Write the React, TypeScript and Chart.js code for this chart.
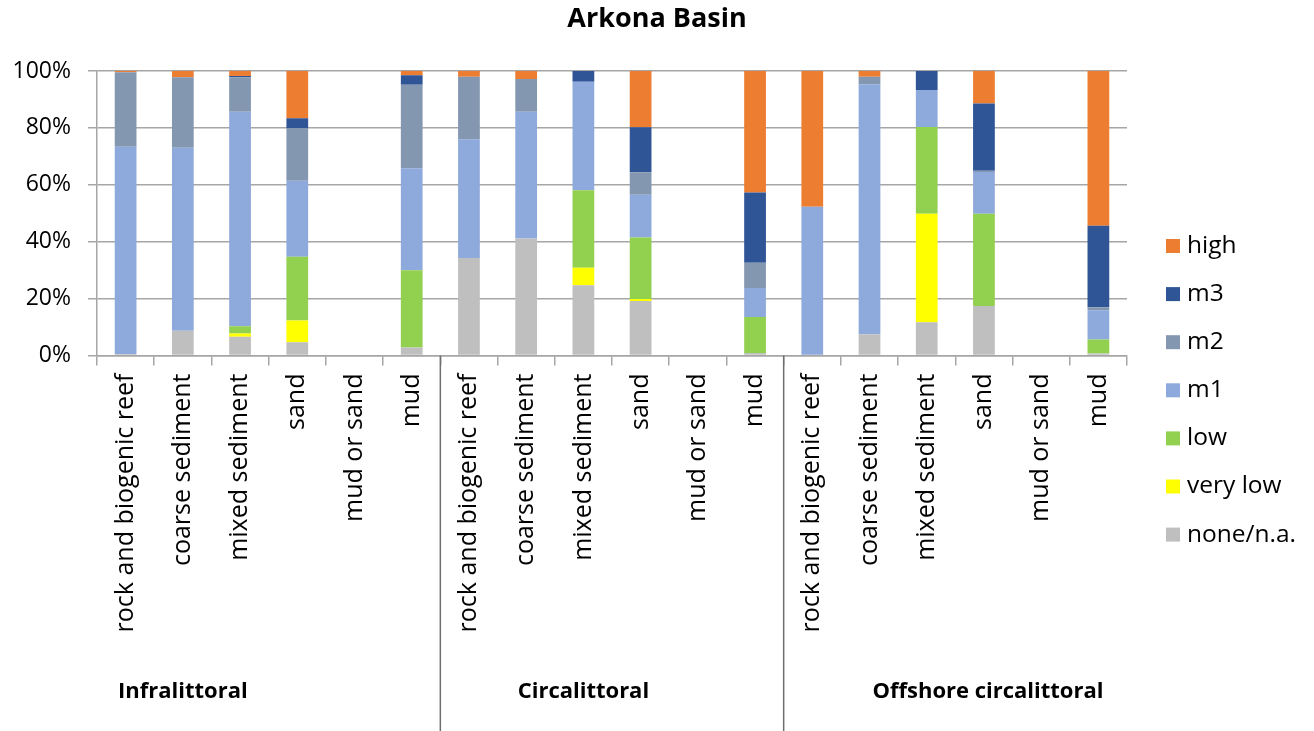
import React, { useEffect, useRef } from 'react';
import { Chart, registerables } from 'chart.js';

Chart.register(...registerables);

// ---------- data ----------
const categories = [
  'rock and biogenic reef', 'coarse sediment', 'mixed sediment', 'sand', 'mud or sand', 'mud',
  'rock and biogenic reef', 'coarse sediment', 'mixed sediment', 'sand', 'mud or sand', 'mud',
  'rock and biogenic reef', 'coarse sediment', 'mixed sediment', 'sand', 'mud or sand', 'mud',
];
const groupNames = ['Infralittoral', 'Circalittoral', 'Offshore circalittoral'];
const groupSizes = [6, 6, 6];

const seriesNames = ['none/n.a.', 'very low', 'low', 'm1', 'm2', 'm3', 'high'];
const noneValues = [0.5, 8.7, 6.6, 4.7, 0, 2.8, 34.3, 41.1, 24.7, 19.2, 0, 0.9, 0, 7.5, 11.7, 17.4, 0, 0.7];
const veryLowValues = [0, 0, 1.1, 7.6, 0, 0, 0, 0, 6.1, 0.7, 0, 0, 0, 0, 38.1, 0, 0, 0];
const lowValues = [0, 0, 2.6, 22.4, 0, 27.2, 0, 0, 27.3, 21.6, 0, 12.6, 0, 0, 30.5, 32.4, 0, 4.9];
const m1Values = [72.9, 64.3, 75.4, 26.7, 0, 35.8, 41.7, 44.6, 38.1, 15.0, 0, 10.2, 52.3, 87.8, 13.0, 14.7, 0, 10.3];
const m2Values = [26.2, 24.8, 12.1, 18.6, 0, 29.4, 22.0, 11.5, 0, 7.9, 0, 8.9, 0, 2.7, 0, 0.4, 0, 1.1];
const m3Values = [0, 0, 0.4, 3.4, 0, 3.3, 0, 0, 3.8, 15.8, 0, 24.7, 0, 0, 6.7, 23.7, 0, 28.6];
const highValues = [0.4, 2.2, 1.8, 16.6, 0, 1.5, 2.0, 2.8, 0, 19.8, 0, 42.7, 47.7, 2.0, 0, 11.4, 0, 54.4];

const yTickValues = [0, 20, 40, 60, 80, 100];
const yTickLabels = ['0%', '20%', '40%', '60%', '80%', '100%'];

const seriesColors = ['#BFBFBF', '#FFFF00', '#92D050', '#8EA9DB', '#8497B0', '#2F5597', '#ED7D31'];

const FONT = '"Open Sans", "DejaVu Sans", sans-serif';

const overlayPlugin = {
  id: 'overlay',
  afterDraw(chart: any) {
    const { ctx, chartArea } = chart;
    const x = chart.scales.x;
    ctx.save();
    // group separators
    ctx.strokeStyle = '#6f6f6f';
    ctx.lineWidth = 1.5;
    let start = 0;
    const starts: number[] = [];
    groupSizes.forEach((n) => { starts.push(start); start += n; });
    starts.slice(1).forEach((i) => {
      const px = (x.getPixelForValue(i - 1) + x.getPixelForValue(i)) / 2;
      ctx.beginPath();
      ctx.moveTo(px, chartArea.bottom);
      ctx.lineTo(px, chart.height);
      ctx.stroke();
    });
    // group labels
    const labelAt = [1, 8, 15.07];
    ctx.font = `bold 22px ${FONT}`;
    ctx.fillStyle = '#000';
    ctx.textAlign = 'center';
    ctx.textBaseline = 'middle';
    groupNames.forEach((g, gi) => {
      const i0 = Math.floor(labelAt[gi]);
      const frac = labelAt[gi] - i0;
      const px = x.getPixelForValue(i0) + frac * (x.getPixelForValue(i0 + 1) - x.getPixelForValue(i0));
      ctx.fillText(g, px, 692);
    });
    // legend (reversed order: high at top)
    ctx.font = `24.5px ${FONT}`;
    ctx.textAlign = 'left';
    const ds = chart.data.datasets.slice().reverse();
    ds.forEach((d: any, i: number) => {
      const cy = 246 + i * 48.1;
      ctx.fillStyle = d.backgroundColor;
      ctx.fillRect(chartArea.right + 39, cy - 7, 14, 14);
      ctx.fillStyle = '#000';
      ctx.fillText(d.label, chartArea.right + 60, cy);
    });
    ctx.restore();
  },
};

export default function App() {
  const ref = useRef<HTMLCanvasElement | null>(null);
  useEffect(() => {
    if (!ref.current) return;
    const values = [noneValues, veryLowValues, lowValues, m1Values, m2Values, m3Values, highValues];
    const chart = new Chart(ref.current, {
      type: 'bar',
      data: {
        labels: categories,
        datasets: seriesNames.map((name, i) => ({
          label: name,
          data: values[i],
          backgroundColor: seriesColors[i],
          borderWidth: 0,
          categoryPercentage: 1,
          barPercentage: 0.38,
        })),
      },
      options: {
        responsive: false,
        animation: false,
        devicePixelRatio: 1,
        layout: { padding: 0 },
        plugins: {
          legend: { display: false },
          tooltip: { enabled: false },
          title: {
            display: true,
            text: 'Arkona Basin',
            color: '#000',
            font: { family: FONT, size: 27, weight: 'bold', lineHeight: 1.2 },
            padding: { top: 3, bottom: 35.6 },
          },
        },
        scales: {
          x: {
            stacked: true,
            grid: {
              display: true,
              offset: true,
              drawOnChartArea: false,
              drawTicks: true,
              tickLength: 10,
              color: '#A6A6A6',
              lineWidth: 1.5,
            },
            border: { display: true, color: '#A6A6A6', width: 1.5 },
            ticks: {
              autoSkip: false,
              minRotation: 90,
              maxRotation: 90,
              padding: 8,
              color: '#000',
              font: { family: FONT, size: 25 },
            },
            afterFit: (s: any) => { s.height = 375.5; },
          },
          y: {
            stacked: true,
            min: 0,
            max: 100,
            afterBuildTicks: (s: any) => { s.ticks = yTickValues.map((v) => ({ value: v })); },
            grid: { color: '#A6A6A6', lineWidth: 1.5, tickLength: 9 },
            border: { display: true, color: '#A6A6A6', width: 1.5 },
            ticks: {
              padding: 17,
              color: '#000',
              font: { family: FONT, size: 23 },
              callback: (v: any) => yTickLabels[yTickValues.indexOf(Number(v))],
            },
            afterFit: (s: any) => { s.width = 97; },
          },
          legendSpace: {
            type: 'linear',
            position: 'right',
            display: true,
            grid: { display: false, drawTicks: false },
            border: { display: false },
            ticks: { display: false },
            afterFit: (s: any) => { s.width = 187; },
          },
        },
      },
      plugins: [overlayPlugin],
    });
    return () => chart.destroy();
  }, []);
  return (
    <div style={{ position: 'fixed', left: 0, top: 0, width: 1314, height: 731, background: '#fff' }}>
      <canvas ref={ref} width={1314} height={731} />
    </div>
  );
}
